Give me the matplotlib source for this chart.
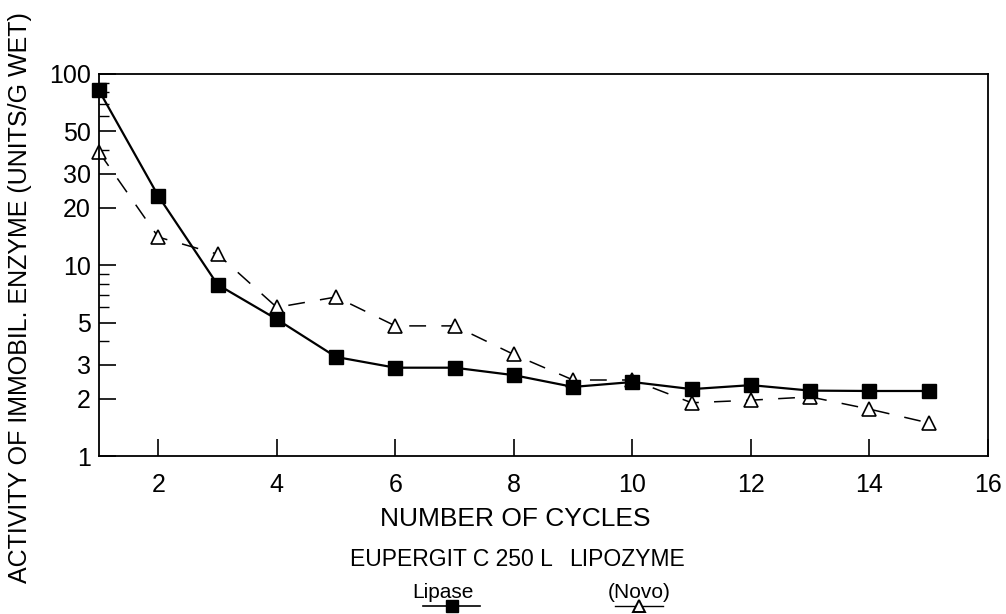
import matplotlib
matplotlib.use("Agg")
import matplotlib.pyplot as plt
from matplotlib.lines import Line2D
from matplotlib.ticker import FixedLocator, FixedFormatter, NullFormatter

plt.rcParams['font.family'] = ['Liberation Sans', 'DejaVu Sans']

# data
cycles = [1, 2, 3, 4, 5, 6, 7, 8, 9, 10, 11, 12, 13, 14, 15]
eupergit = [82, 23, 7.9, 5.2, 3.3, 2.9, 2.9, 2.65, 2.3, 2.44, 2.24, 2.35, 2.2, 2.19, 2.19]
lipozyme = [39, 14, 11.4, 6.0, 6.8, 4.8, 4.8, 3.4, 2.5, 2.5, 1.9, 1.96, 2.04, 1.76, 1.49]

y_major = [1, 2, 3, 5, 10, 20, 30, 50, 100]
y_labels = ['1', '2', '3', '5', '10', '20', '30', '50', '100']
y_minor = [4, 6, 7, 8, 9, 40, 60, 70, 80, 90]
x_ticks = [2, 4, 6, 8, 10, 12, 14, 16]

fig = plt.figure(figsize=(10.06, 6.14), dpi=100)
ax = fig.add_axes([0.0984, 0.2573, 0.8837, 0.6222])

ax.plot(cycles, eupergit, color='black', lw=1.6, marker='s', ms=10,
        markerfacecolor='black', markeredgecolor='black', clip_on=False, zorder=3)
ax.plot(cycles, lipozyme, color='black', lw=1.1, ls=(0, (11, 10)), marker='^', ms=10,
        markerfacecolor='white', markeredgecolor='black', markeredgewidth=1.2,
        clip_on=False)

ax.set_yscale('log')
ax.set_ylim(1, 100)
ax.set_xlim(1, 16)
ax.yaxis.set_major_locator(FixedLocator(y_major))
ax.yaxis.set_major_formatter(FixedFormatter(y_labels))
ax.yaxis.set_minor_locator(FixedLocator(y_minor))
ax.yaxis.set_minor_formatter(NullFormatter())
ax.set_xticks(x_ticks)
ax.tick_params(axis='both', which='major', direction='in', labelsize=18,
               length=12, width=1.2, color='black')
ax.tick_params(axis='y', which='minor', direction='in', length=7, width=1.0)
ax.tick_params(axis='x', pad=12)
ax.tick_params(axis='y', pad=6)
for s in ax.spines.values():
    s.set_linewidth(1.3)

ax.set_xlabel('NUMBER OF CYCLES', fontsize=19)
ax.xaxis.set_label_coords(0.468, -0.133)

fig.text(20 / 1006, 1 - 298 / 614, 'ACTIVITY OF IMMOBIL. ENZYME (UNITS/G WET)',
         rotation=90, fontsize=18, ha='center', va='center')

# legend drawn below the axis
fig.text(451 / 1006, 1 - 559 / 614, 'EUPERGIT C 250 L', fontsize=16.5, ha='center', va='center')
fig.text(443 / 1006, 1 - 592 / 614, 'Lipase', fontsize=15, ha='center', va='center')
fig.text(627 / 1006, 1 - 559 / 614, 'LIPOZYME', fontsize=16.5, ha='center', va='center')
fig.text(639 / 1006, 1 - 592 / 614, '(Novo)', fontsize=15, ha='center', va='center')

ly = 1 - 606 / 614
fig.add_artist(Line2D([423 / 1006, 480 / 1006], [ly, ly], color='black', lw=1.2,
                      transform=fig.transFigure))
fig.add_artist(Line2D([452 / 1006], [ly], color='black', marker='s', ms=8,
                      transform=fig.transFigure))
fig.add_artist(Line2D([615 / 1006, 663 / 1006], [ly, ly], color='black', lw=1.0,
                      transform=fig.transFigure))
fig.add_artist(Line2D([639 / 1006], [ly], color='black', marker='^', ms=9,
                      markerfacecolor='white', markeredgewidth=1.4,
                      transform=fig.transFigure))

fig.savefig('out.png', dpi=100)
